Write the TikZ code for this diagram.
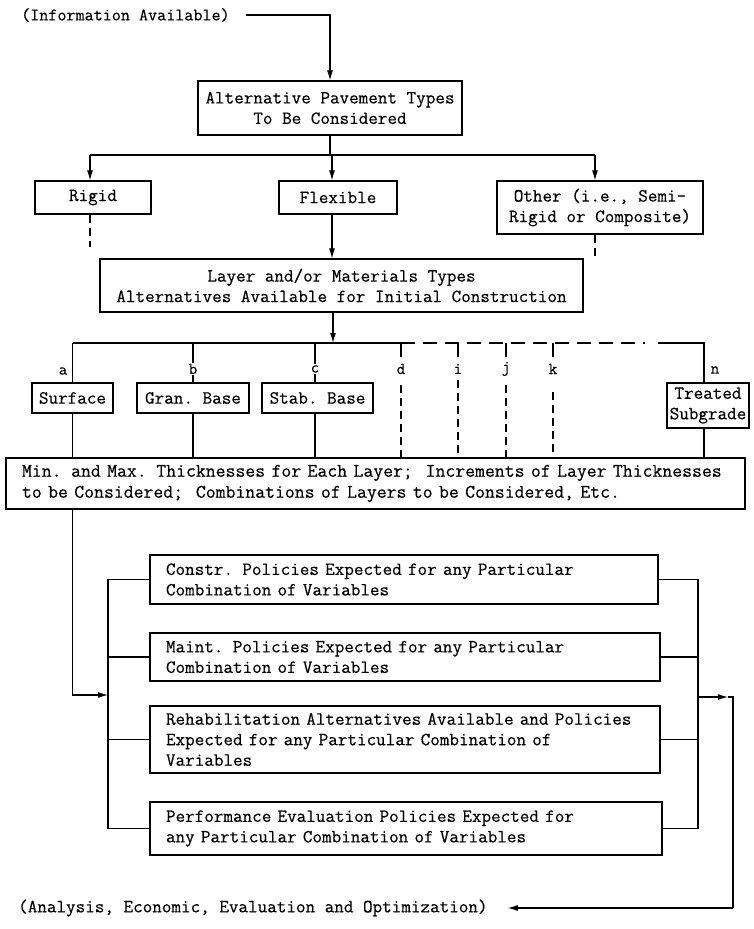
\documentclass[tikz,border=0pt]{standalone}
\usepackage{fontspec}
\setmonofont[FakeBold=0.4]{Latin Modern Mono}
\usetikzlibrary{arrows.meta}
\newcommand\twfont{\ttfamily\fontsize{18.6}{20.5}\selectfont}
\newcommand\twsmall{\ttfamily\fontsize{17.6}{20.5}\selectfont}
\newcommand\twwide{\ttfamily\fontsize{19.2}{21}\selectfont}
\newcommand\twlab{\ttfamily\fontsize{16.5}{18}\selectfont}
\begin{document}
\begin{tikzpicture}[x=1pt,y=-1pt,
  font=\twfont,
  box/.style={draw, line width=1.3pt, inner sep=0pt, align=center},
  lbox/.style={draw, line width=1.3pt, inner ysep=0pt, inner xsep=16pt, align=left},
  conn/.style={line width=1.1pt},
  arr/.style={conn, -{Latex[length=10pt,width=6pt]}},
  dsh/.style={conn, dash pattern=on 8pt off 5pt},
  hdsh/.style={conn, dash pattern=on 14pt off 8pt},
  lab/.style={fill=white, inner sep=1pt, font=\twlab},
]
\useasboundingbox (0,0) rectangle (753,929);

% nodes
\node[anchor=west, inner sep=0pt, font=\twsmall] (info) at (21,15) {(Information Available)};
\node[box, minimum width=264pt, minimum height=54pt] (pav) at (330,108) {Alternative Pavement Types\\To Be Considered};
\node[box, minimum width=116pt, minimum height=33pt] (rigid) at (93,197.5) {Rigid};
\node[box, minimum width=118pt, minimum height=33pt] (flex) at (338,197.5) {Flexible};
\node[box, minimum width=206pt, minimum height=53pt] (other) at (600,207.5) {Other (i.e., Semi-\\Rigid or Composite)};
\node[box, minimum width=483pt, minimum height=53pt] (layer) at (341.5,285.5) {Layer and/or Materials Types\\Alternatives Available for Initial Construction};
\node[box, minimum width=81pt, minimum height=30pt] (surf) at (72.5,398) {Surface};
\node[box, minimum width=112pt, minimum height=30pt] (gran) at (193,398) {Gran. Base};
\node[box, minimum width=111pt, minimum height=30pt] (stab) at (317.5,398) {Stab. Base};
\node[box, minimum width=82pt, minimum height=45pt] (treat) at (708,405.5) {Treated\\Subgrade};
\node[lbox, text width=707pt, minimum height=51pt, font=\twwide] (minmax) at (375.5,483.5) {\mbox{Min. and Max. Thicknesses for Each Layer;~ Increments of Layer Thicknesses}\\\mbox{to be Considered;~ Combinations of Layers to be Considered, Etc.}};
\node[lbox, text width=476pt, minimum height=49pt] (constr) at (404,579.5) {\mbox{Constr. Policies Expected for any Particular}\\\mbox{Combination of Variables}};
\node[lbox, text width=478pt, minimum height=48pt] (maint) at (405,657) {\mbox{Maint. Policies Expected for any Particular}\\\mbox{Combination of Variables}};
\node[lbox, text width=478pt, minimum height=67pt] (rehab) at (405,739.5) {\mbox{Rehabilitation Alternatives Available and Policies}\\\mbox{Expected for any Particular Combination of}\\\mbox{Variables}};
\node[lbox, text width=480pt, minimum height=53pt] (perf) at (406,828.5) {\mbox{Performance Evaluation Policies Expected for}\\\mbox{any Particular Combination of Variables}};
\node[anchor=west, inner sep=0pt] (anal) at (18,908) {(Analysis, Economic, Evaluation and Optimization)};

% top
\draw[arr] ([xshift=16pt]info.east) -| (pav.north);
\coordinate (s1) at (330,155);
\coordinate (s1l) at (90,155);
\coordinate (s1f) at (332,155);
\coordinate (s1r) at (595,155);
\draw[conn] (pav.south) -- (s1);
\draw[conn] (s1l) -- (s1r);
\draw[arr] (s1l) -- (s1l |- rigid.north);
\draw[arr] (s1f) -- (s1f |- flex.north);
\draw[arr] (s1r) -- (s1r |- other.north);
\coordinate (rgend) at (90,247);
\coordinate (otend) at (595,260);
\draw[dsh] (s1l |- rigid.south) -- (rgend);
\draw[dsh] (s1r |- other.south) -- (otend);
\draw[arr] (s1f |- flex.south) -- (s1f |- layer.north);

% split line
\coordinate (s2) at (333,343);
\draw[arr] (s2 |- layer.south) -- (s2);
\coordinate (ta) at (72.5,343);
\coordinate (tb) at (193,343);
\coordinate (tc) at (315,343);
\coordinate (td) at (401,343);
\coordinate (ti) at (458,343);
\coordinate (tj) at (506,343);
\coordinate (tk) at (553,343);
\coordinate (tdashend) at (645,343);
\coordinate (tm) at (658,343);
\coordinate (tn) at (704,343);
\draw[conn] (ta) -- (td);
\draw[hdsh] (td) -- (tdashend);
\draw[conn] (tm) -- (tn) -- (tn |- treat.north);
\draw[conn] (ta) -- (ta |- surf.north);
\draw[conn] (tb) -- (tb |- gran.north);
\draw[conn] (tc) -- (tc |- stab.north);

\coordinate (dt) at (401,357);
\coordinate (it) at (458,357);
\coordinate (jt) at (506,357);
\coordinate (kt) at (553,357);
\draw[conn] (td) -- (dt);
\draw[conn] (ti) -- (it);
\draw[conn] (tj) -- (jt);
\draw[conn] (tk) -- (kt);
\coordinate (db) at (401,385);
\coordinate (ib) at (458,380);
\coordinate (jb) at (506,385);
\coordinate (kb) at (553,392);
\draw[dsh] (db) -- (db |- minmax.north);
\draw[dsh] (ib) -- (ib |- minmax.north);
\draw[dsh] (jb) -- (jb |- minmax.north);
\draw[dsh] (kb) -- (kb |- minmax.north);

\draw[conn] (surf.south) -- (surf.south |- minmax.north);
\draw[conn] (gran.south) -- (gran.south |- minmax.north);
\draw[conn] (tc |- stab.south) -- (tc |- minmax.north);
\draw[conn] (tn |- treat.south) -- (tn |- minmax.north);

% labels
\node[lab] (la) at (63,371) {a};
\node[lab] (lb) at (193,369) {b};
\node[lab] (lc) at (315,369) {c};
\node[lab] (ld) at (401,369) {d};
\node[lab] (li) at (458,369) {i};
\node[lab] (lj) at (506,369) {j};
\node[lab] (lk) at (553,369) {k};
\node[lab] (ln) at (715,370) {n};

% left bus
\coordinate (lbx) at (108,600);
\coordinate (mi) at (72.5,695);
\coordinate (mo) at (108,695);
\draw[conn] (constr.west) -- (constr.west -| lbx) -- (perf.west -| lbx) -- (perf.west);
\draw[conn] (maint.west) -- (maint.west -| lbx);
\draw[conn] (rehab.west) -- (rehab.west -| lbx);
\draw[arr] (ta |- minmax.south) -- (mi) -- (mo);

% right bus
\coordinate (rbx) at (698,600);
\draw[conn] (constr.east) -- (constr.east -| rbx) -- (perf.east -| rbx) -- (perf.east);
\draw[conn] (maint.east) -- (maint.east -| rbx);
\draw[conn] (rehab.east) -- (rehab.east -| rbx);
\coordinate (ro) at (698,697);
\coordinate (rt) at (728,697);
\coordinate (rc) at (733,697);
\coordinate (rb) at (733,908);
\draw[arr] (ro) -- (rt);
\draw[conn] (rt) -- (rc) -- (rb);
\draw[arr] (rb) -- ([xshift=20pt]anal.east);
\end{tikzpicture}
\end{document}
